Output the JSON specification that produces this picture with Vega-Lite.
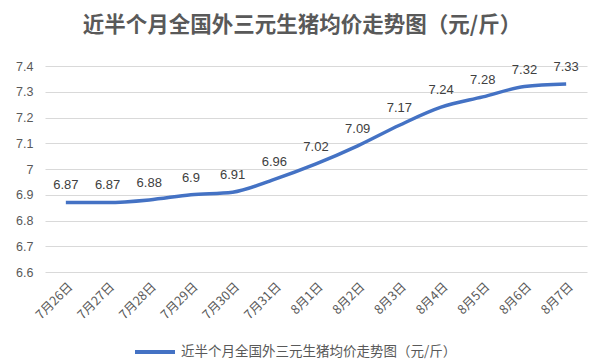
{
  "$schema": "https://vega.github.io/schema/vega-lite/v6.json",
  "width": 542,
  "height": 206,
  "autosize": "none",
  "padding": {"left": 45, "top": 66, "right": 21, "bottom": 88},
  "background": "white",
  "config": {
    "view": {"stroke": null},
    "font": "Noto Sans CJK SC"
  },
  "title": {
    "text": "近半个月全国外三元生猪均价走势图（元/斤）",
    "fontSize": 21.5,
    "fontWeight": "bold",
    "color": "#595959",
    "offset": 24,
    "dx": -14,
    "anchor": "middle"
  },
  "data": {
    "values": [
      {"date": "7月26日", "price": 6.87, "s": "近半个月全国外三元生猪均价走势图（元/斤）"},
      {"date": "7月27日", "price": 6.87, "s": "近半个月全国外三元生猪均价走势图（元/斤）"},
      {"date": "7月28日", "price": 6.88, "s": "近半个月全国外三元生猪均价走势图（元/斤）"},
      {"date": "7月29日", "price": 6.9, "s": "近半个月全国外三元生猪均价走势图（元/斤）"},
      {"date": "7月30日", "price": 6.91, "s": "近半个月全国外三元生猪均价走势图（元/斤）"},
      {"date": "7月31日", "price": 6.96, "s": "近半个月全国外三元生猪均价走势图（元/斤）"},
      {"date": "8月1日", "price": 7.02, "s": "近半个月全国外三元生猪均价走势图（元/斤）"},
      {"date": "8月2日", "price": 7.09, "s": "近半个月全国外三元生猪均价走势图（元/斤）"},
      {"date": "8月3日", "price": 7.17, "s": "近半个月全国外三元生猪均价走势图（元/斤）"},
      {"date": "8月4日", "price": 7.24, "s": "近半个月全国外三元生猪均价走势图（元/斤）"},
      {"date": "8月5日", "price": 7.28, "s": "近半个月全国外三元生猪均价走势图（元/斤）"},
      {"date": "8月6日", "price": 7.32, "s": "近半个月全国外三元生猪均价走势图（元/斤）"},
      {"date": "8月7日", "price": 7.33, "s": "近半个月全国外三元生猪均价走势图（元/斤）"}
    ]
  },
  "encoding": {
    "x": {
      "field": "date",
      "type": "ordinal",
      "sort": null,
      "scale": {"type": "point", "padding": 0.5},
      "axis": {
        "title": null,
        "labelAngle": -45,
        "labelAlign": "right",
        "labelBaseline": "top",
        "labelFontSize": 12.5,
        "labelColor": "#595959",
        "domain": false,
        "ticks": false,
        "labelPadding": 8,
        "grid": false
      }
    },
    "y": {
      "field": "price",
      "type": "quantitative",
      "scale": {"domain": [6.6, 7.4], "zero": false},
      "axis": {
        "title": null,
        "values": [6.6, 6.7, 6.8, 6.9, 7.0, 7.1, 7.2, 7.3, 7.4],
        "format": "~g",
        "labelFontSize": 12.5,
        "labelFont": "Liberation Sans",
        "labelColor": "#595959",
        "domain": false,
        "ticks": false,
        "labelPadding": 12,
        "gridColor": "#d9d9d9",
        "gridWidth": 1
      }
    }
  },
  "layer": [
    {
      "mark": {"type": "line", "interpolate": "monotone", "strokeWidth": 3.5},
      "encoding": {
        "color": {
          "field": "s",
          "type": "nominal",
          "scale": {"range": ["#4472C4"]},
          "legend": {
            "title": null,
            "orient": "none",
            "legendX": 88,
            "legendY": 264,
            "symbolType": "stroke",
            "symbolSize": 1600,
            "symbolStrokeWidth": 4,
            "labelFontSize": 13.5,
            "labelColor": "#595959",
            "labelLimit": 400,
            "labelOffset": 4
          }
        }
      }
    },
    {
      "mark": {"type": "text", "dy": -17, "fontSize": 13, "font": "Liberation Sans", "color": "#404040"},
      "encoding": {"text": {"field": "price", "type": "quantitative", "format": "~g"}}
    }
  ]
}
